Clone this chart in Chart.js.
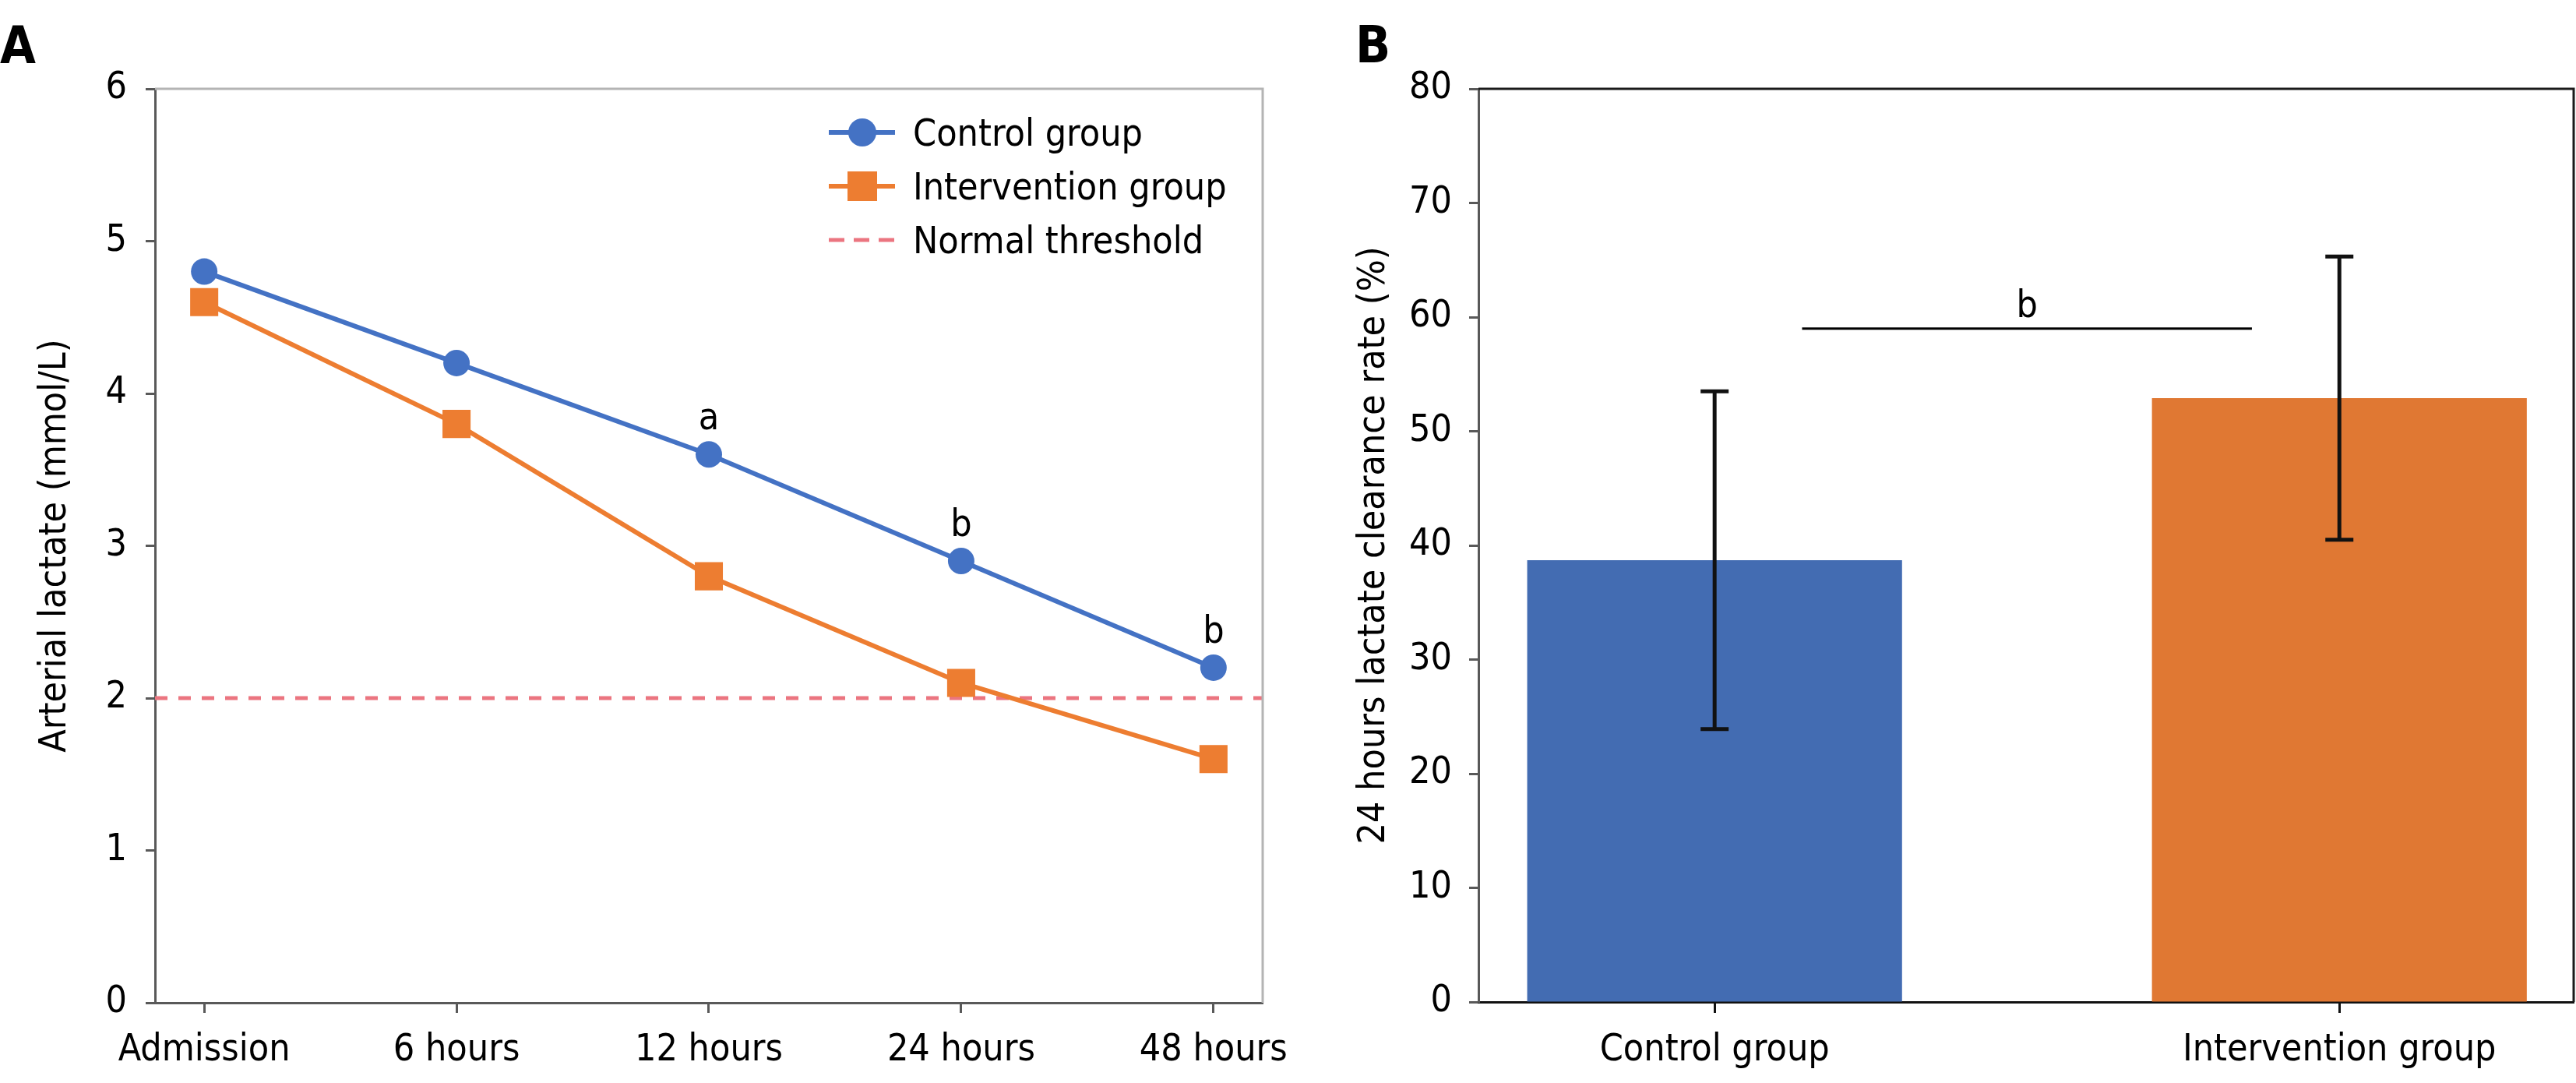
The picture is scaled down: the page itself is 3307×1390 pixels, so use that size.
<!DOCTYPE html>
<html lang="en">
<head>
<meta charset="UTF-8">
<title>Arterial lactate and 24 hours lactate clearance</title>
<script src="https://cdn.jsdelivr.net/npm/chart.js@4.4.1/dist/chart.umd.min.js"></script>
<style>
html, body { margin: 0; padding: 0; background: #fff; }
#wrapA { position: absolute; left: 0; top: 0; width: 1690px; height: 1390px; }
#wrapB { position: absolute; left: 1690px; top: 0; width: 1617px; height: 1390px; }
</style>
</head>
<body>
<div id="wrapA"><canvas id="chartA"></canvas></div>
<div id="wrapB"><canvas id="chartB"></canvas></div>

<script>
// Panel A: arterial lactate over time
var timeLabels = ['Admission', '6 hours', '12 hours', '24 hours', '48 hours'];
var controlLactate = [4.8, 4.2, 3.6, 2.9, 2.2];
var interventionLactate = [4.6, 3.8, 2.8, 2.1, 1.6];
var sigMarksA = ['', '', 'a', 'b', 'b'];
var normalThreshold = 2;
var seriesNames = ['Control group', 'Intervention group', 'Normal threshold'];

// Panel B: 24 hours lactate clearance rate
var groupLabels = ['Control group', 'Intervention group'];
var clearanceMean = [38.7, 52.9];
var clearanceSD = [14.8, 12.4];
var sigLevelB = 59;
var sigSpanB = [0.14, 0.86];
var sigTextB = 'b';

var FONT = "'DejaVu Sans Condensed', 'Liberation Sans', sans-serif";
Chart.defaults.font.family = FONT;
Chart.defaults.font.size = 48;
Chart.defaults.color = '#000';

var blue = '#4472C4', orange = '#ED7D31', pink = '#EB7580';
var barBlue = '#436CB2', barOrange = '#E07833';

function toXY(arr) {
  return arr.map(function (v, i) { return { x: i, y: v }; });
}

// top + right frame lines
function framePlugin(color, width) {
  return {
    id: 'frame',
    afterDraw: function (chart) {
      var a = chart.chartArea, ctx = chart.ctx;
      ctx.save();
      ctx.strokeStyle = color;
      ctx.lineWidth = width;
      ctx.beginPath();
      ctx.moveTo(a.left, a.top);
      ctx.lineTo(a.right, a.top);
      ctx.lineTo(a.right, a.bottom);
      ctx.stroke();
      ctx.restore();
    }
  };
}

function letterPlugin(letter, x, y) {
  return {
    id: 'letter',
    afterDraw: function (chart) {
      var ctx = chart.ctx;
      ctx.save();
      ctx.font = 'bold 66px ' + FONT;
      ctx.fillStyle = '#000';
      ctx.textAlign = 'left';
      ctx.textBaseline = 'alphabetic';
      ctx.fillText(letter, x, y);
      ctx.restore();
    }
  };
}

// legend drawn like the original (line with marker in the middle)
var legendA = {
  id: 'legendA',
  afterDraw: function (chart) {
    var ctx = chart.ctx;
    var x0 = 1064, x1 = 1149, xm = 1107, xt = 1172;
    var rows = [170, 239, 308];
    ctx.save();
    ctx.font = '48px ' + FONT;
    ctx.textAlign = 'left';
    ctx.textBaseline = 'alphabetic';
    chart.data.datasets.forEach(function (ds, i) {
      var y = rows[i];
      ctx.strokeStyle = ds.borderColor;
      ctx.lineWidth = ds.borderWidth;
      ctx.setLineDash(ds.borderDash ? [20, 12] : []);
      ctx.beginPath();
      ctx.moveTo(x0, y);
      ctx.lineTo(x1, y);
      ctx.stroke();
      ctx.setLineDash([]);
      ctx.fillStyle = ds.backgroundColor;
      if (ds.pointStyle === 'circle') {
        ctx.beginPath();
        ctx.arc(xm, y, 18, 0, Math.PI * 2);
        ctx.fill();
      } else if (ds.pointStyle === 'rect') {
        ctx.fillRect(xm - 19, y - 19, 38, 38);
      }
      ctx.fillStyle = '#000';
      ctx.fillText(ds.label, xt, y + 17);
    });
    ctx.restore();
  }
};

var marksA = {
  id: 'marksA',
  afterDatasetsDraw: function (chart) {
    var ctx = chart.ctx, xs = chart.scales.x, ys = chart.scales.y;
    ctx.save();
    ctx.font = '48px ' + FONT;
    ctx.fillStyle = '#000';
    ctx.textAlign = 'center';
    ctx.textBaseline = 'alphabetic';
    controlLactate.forEach(function (v, i) {
      if (!sigMarksA[i]) return;
      ctx.fillText(sigMarksA[i], xs.getPixelForValue(i), ys.getPixelForValue(v) - 32);
    });
    ctx.restore();
  }
};

new Chart(document.getElementById('chartA'), {
  type: 'line',
  data: {
    datasets: [{
      label: seriesNames[0],
      data: toXY(controlLactate),
      borderColor: blue,
      backgroundColor: blue,
      borderWidth: 6,
      pointStyle: 'circle',
      pointRadius: 17,
      pointBorderWidth: 0
    }, {
      label: seriesNames[1],
      data: toXY(interventionLactate),
      borderColor: orange,
      backgroundColor: orange,
      borderWidth: 6,
      pointStyle: 'rect',
      pointRadius: 25.5,
      pointBorderWidth: 0
    }, {
      label: seriesNames[2],
      data: [{ x: -0.195, y: normalThreshold }, { x: 4.195, y: normalThreshold }],
      borderColor: pink,
      backgroundColor: pink,
      borderWidth: 5,
      borderDash: [16, 14],
      pointRadius: 0
    }]
  },
  options: {
    responsive: true,
    maintainAspectRatio: false,
    animation: false,
    layout: { padding: { top: 114, right: 69, bottom: 0, left: 0 } },
    plugins: { legend: { display: false }, tooltip: { enabled: false } },
    scales: {
      x: {
        type: 'linear',
        min: -0.195,
        max: 4.195,
        afterBuildTicks: function (s) { s.ticks = timeLabels.map(function (t, i) { return { value: i }; }); },
        afterFit: function (s) { s.height = 103; },
        ticks: { autoSkip: false, maxRotation: 0, padding: 20, callback: function (v) { return timeLabels[v]; } },
        grid: { drawOnChartArea: false, tickLength: 13, tickWidth: 3, tickColor: '#595959' },
        border: { color: '#595959', width: 3 }
      },
      y: {
        min: 0,
        max: 6,
        afterFit: function (s) { s.width = 199; },
        ticks: { stepSize: 1, padding: 24 },
        grid: { drawOnChartArea: false, tickLength: 12, tickWidth: 3, tickColor: '#595959' },
        border: { color: '#595959', width: 3 },
        title: { display: true, text: 'Arterial lactate (mmol/L)', padding: { top: 43, bottom: 0 } }
      }
    }
  },
  plugins: [framePlugin('#B4B4B4', 3), legendA, marksA, letterPlugin('A', 0, 81)]
});

// error bars + significance line for panel B
var extrasB = {
  id: 'extrasB',
  afterDatasetsDraw: function (chart) {
    var ctx = chart.ctx, xs = chart.scales.x, ys = chart.scales.y;
    ctx.save();
    ctx.strokeStyle = '#111';
    ctx.lineWidth = 5;
    clearanceMean.forEach(function (m, i) {
      var x = xs.getPixelForValue(i);
      var yt = ys.getPixelForValue(m + clearanceSD[i]);
      var yb = ys.getPixelForValue(m - clearanceSD[i]);
      ctx.beginPath();
      ctx.moveTo(x, yt); ctx.lineTo(x, yb);
      ctx.moveTo(x - 18, yt); ctx.lineTo(x + 18, yt);
      ctx.moveTo(x - 18, yb); ctx.lineTo(x + 18, yb);
      ctx.stroke();
    });
    var ys0 = ys.getPixelForValue(sigLevelB);
    var xa = xs.getPixelForValue(sigSpanB[0]), xb = xs.getPixelForValue(sigSpanB[1]);
    ctx.strokeStyle = '#000';
    ctx.lineWidth = 3;
    ctx.beginPath();
    ctx.moveTo(xa, ys0); ctx.lineTo(xb, ys0);
    ctx.stroke();
    ctx.font = '48px ' + FONT;
    ctx.fillStyle = '#000';
    ctx.textAlign = 'center';
    ctx.textBaseline = 'alphabetic';
    ctx.fillText(sigTextB, (xa + xb) / 2, ys0 - 15);
    ctx.restore();
  }
};

new Chart(document.getElementById('chartB'), {
  type: 'bar',
  data: {
    datasets: [{
      data: toXY(clearanceMean),
      backgroundColor: [barBlue, barOrange],
      borderWidth: 0,
      barPercentage: 0.6,
      categoryPercentage: 1
    }]
  },
  options: {
    responsive: true,
    maintainAspectRatio: false,
    animation: false,
    layout: { padding: { top: 114, right: 3, bottom: 0, left: 0 } },
    plugins: { legend: { display: false }, tooltip: { enabled: false } },
    scales: {
      x: {
        type: 'linear',
        offset: false,
        min: -0.378,
        max: 1.375,
        afterBuildTicks: function (s) { s.ticks = groupLabels.map(function (t, i) { return { value: i }; }); },
        afterFit: function (s) { s.height = 104; },
        ticks: { autoSkip: false, maxRotation: 0, padding: 20, callback: function (v) { return groupLabels[v]; } },
        grid: { offset: false, drawOnChartArea: false, tickLength: 14, tickWidth: 3, tickColor: '#111' },
        border: { color: '#111', width: 3 }
      },
      y: {
        min: 0,
        max: 80,
        afterFit: function (s) { s.width = 208; },
        ticks: { stepSize: 10, padding: 22 },
        grid: { drawOnChartArea: false, tickLength: 12, tickWidth: 3, tickColor: '#595959' },
        border: { color: '#595959', width: 3 },
        title: { display: true, text: '24 hours lactate clearance rate (%)', padding: { top: 46, bottom: 0 } }
      }
    }
  },
  plugins: [framePlugin('#1a1a1a', 3), extrasB, letterPlugin('B', 50, 80)]
});
</script>
</body>
</html>
